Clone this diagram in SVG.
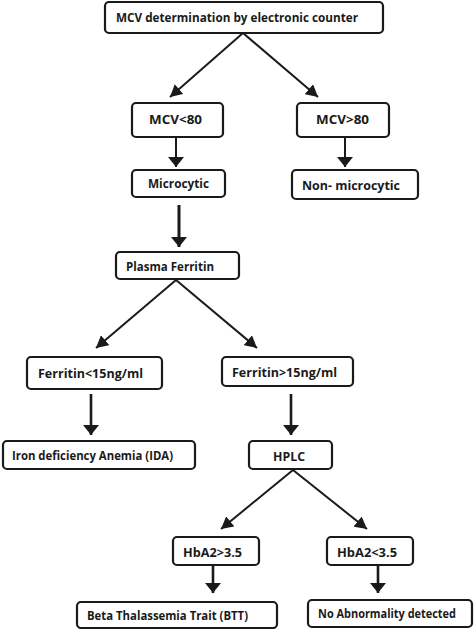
<svg xmlns="http://www.w3.org/2000/svg" width="474" height="629" viewBox="0 0 474 629">
<style>
.box{fill:#fff;stroke:#1a1a1a;stroke-width:2.2}
.t{font-family:"Open Sans","Liberation Sans",sans-serif;font-weight:700;fill:#1a1a1a;font-size:12px}
.s{font-size:11.5px}
.c{stroke:#1a1a1a;stroke-width:2;fill:none}
.v{marker-end:url(#hv)}
.d{marker-end:url(#hd)}
</style>
<defs>
<marker id="hv" viewBox="0 0 10 10" refX="10" refY="5" markerWidth="10" markerHeight="16" markerUnits="userSpaceOnUse" orient="auto" preserveAspectRatio="none">
<path d="M0,0 L10,5 L0,10 z" fill="#1a1a1a"/>
</marker>
<marker id="hd" viewBox="0 0 10 10" refX="10" refY="5" markerWidth="12" markerHeight="13" markerUnits="userSpaceOnUse" orient="auto" preserveAspectRatio="none">
<path d="M0,0 L10,5 L0,10 z" fill="#1a1a1a"/>
</marker>
</defs>
<rect width="474" height="629" fill="#fff"/>
<g id="connectors">
<line class="c d" x1="243" y1="33" x2="170" y2="97"/>
<line class="c d" x1="243" y1="33" x2="318" y2="97"/>
<line class="c v" x1="176" y1="137" x2="176" y2="167"/>
<line class="c v" x1="345" y1="137" x2="345" y2="167"/>
<line class="c v" x1="179" y1="205" x2="179" y2="247" style="stroke-width:3"/>
<line class="c d" x1="176" y1="280" x2="96" y2="348"/>
<line class="c d" x1="176" y1="280" x2="257" y2="348"/>
<line class="c v" x1="91" y1="394" x2="91" y2="435" style="stroke-width:2.6"/>
<line class="c v" x1="291" y1="394" x2="291" y2="435" style="stroke-width:2.6"/>
<line class="c d" x1="293" y1="470" x2="221" y2="529"/>
<line class="c d" x1="293" y1="470" x2="367" y2="529"/>
<line class="c v" x1="213" y1="565" x2="213" y2="593" style="stroke-width:2.6"/>
<line class="c v" x1="378" y1="565" x2="378" y2="593" style="stroke-width:2.6"/>
</g>
<g id="n-mcv">
<rect class="box" x="105" y="2" width="278" height="31" rx="4"/>
<text class="t s" x="116" y="22" textLength="242" lengthAdjust="spacingAndGlyphs">MCV determination by electronic counter</text>
</g>
<g id="n-mcvlt">
<rect class="box" x="132" y="103" width="91" height="34" rx="4"/>
<text class="t" x="149" y="124" textLength="53" lengthAdjust="spacingAndGlyphs" style="font-size:13px">MCV&lt;80</text>
</g>
<g id="n-mcvgt">
<rect class="box" x="297" y="103" width="92" height="34" rx="4"/>
<text class="t" x="316" y="124" textLength="53" lengthAdjust="spacingAndGlyphs" style="font-size:13px">MCV&gt;80</text>
</g>
<g id="n-micro">
<rect class="box" x="132" y="170" width="93" height="27" rx="4"/>
<text class="t" x="148" y="188" textLength="61" lengthAdjust="spacingAndGlyphs">Microcytic</text>
</g>
<g id="n-nonmicro">
<rect class="box" x="292" y="170" width="126" height="29" rx="4"/>
<text class="t" x="302" y="190" textLength="98" lengthAdjust="spacingAndGlyphs" style="font-size:13px">Non- microcytic</text>
</g>
<g id="n-plasma">
<rect class="box" x="116" y="252" width="123" height="27" rx="4"/>
<text class="t" x="126" y="271" textLength="88" lengthAdjust="spacingAndGlyphs">Plasma Ferritin</text>
</g>
<g id="n-ferlt">
<rect class="box" x="27" y="357" width="135" height="32" rx="4"/>
<text class="t" x="38" y="378" textLength="105" lengthAdjust="spacingAndGlyphs" style="font-size:13px">Ferritin&lt;15ng/ml</text>
</g>
<g id="n-fergt">
<rect class="box" x="222" y="357" width="131" height="29" rx="4"/>
<text class="t" x="232" y="377" textLength="105" lengthAdjust="spacingAndGlyphs" style="font-size:13px">Ferritin&gt;15ng/ml</text>
</g>
<g id="n-ida">
<rect class="box" x="3" y="441" width="192" height="28" rx="4"/>
<text class="t" x="12" y="460" textLength="161" lengthAdjust="spacingAndGlyphs">Iron deficiency Anemia (IDA)</text>
</g>
<g id="n-hplc">
<rect class="box" x="249" y="441" width="83" height="28" rx="4"/>
<text class="t" x="273" y="461" textLength="32" lengthAdjust="spacingAndGlyphs" style="font-size:13px">HPLC</text>
</g>
<g id="n-hbgt">
<rect class="box" x="173" y="537" width="86" height="28" rx="4"/>
<text class="t" x="183" y="557" textLength="59" lengthAdjust="spacingAndGlyphs" style="font-size:13px">HbA2&gt;3.5</text>
</g>
<g id="n-hblt">
<rect class="box" x="327" y="537" width="86" height="28" rx="4"/>
<text class="t" x="337" y="557" textLength="60" lengthAdjust="spacingAndGlyphs" style="font-size:13px">HbA2&lt;3.5</text>
</g>
<g id="n-btt">
<rect class="box" x="77" y="602" width="200" height="26" rx="4"/>
<text class="t" x="87" y="620" textLength="161" lengthAdjust="spacingAndGlyphs">Beta Thalassemia Trait (BTT)</text>
</g>
<g id="n-noabn">
<rect class="box" x="308" y="600" width="164" height="27" rx="4"/>
<text class="t" x="318" y="618" textLength="138" lengthAdjust="spacingAndGlyphs">No Abnormality detected</text>
</g>
</svg>
